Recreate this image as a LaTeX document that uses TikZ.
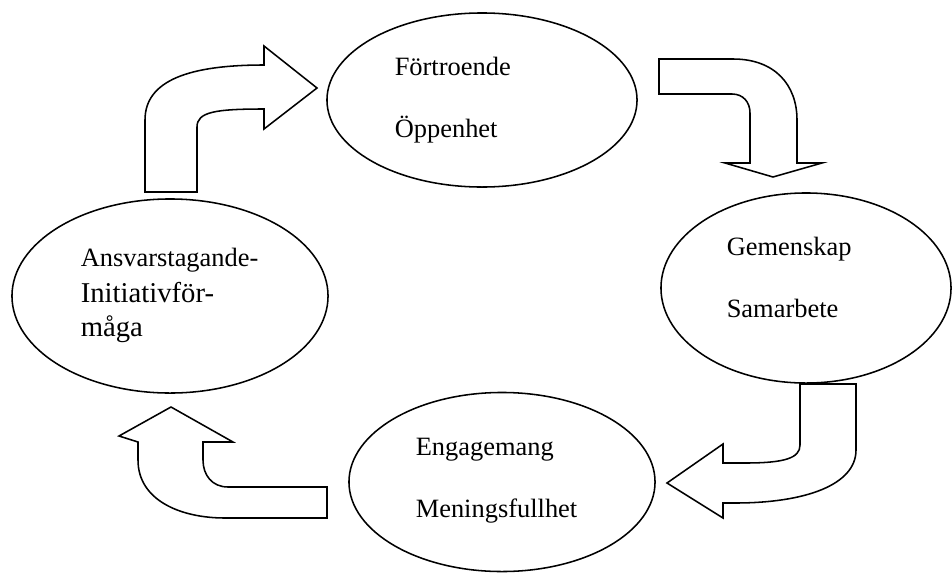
\documentclass[tikz,border=0pt]{standalone}
\usepackage{fontspec}
\setmainfont{Liberation Serif}
\usepackage{tikz}
\usetikzlibrary{shapes.geometric}

\begin{document}
\begin{tikzpicture}[x=0.025cm,y=-0.025cm,line width=1.1pt,
                    oval/.style={draw,ellipse,inner sep=0pt},
                    word/.style={anchor=base west,inner sep=0pt,font=\fontsize{18.8}{22}\selectfont},
                    bigword/.style={word,font=\fontsize{20.4}{24}\selectfont},
                    bent/.style={draw,fill=white,line join=miter}]
        \useasboundingbox (0,0) rectangle (952,573);

        \node[oval,minimum width=7.75cm,minimum height=4.35cm] (trust) at (482,100) {};
        \node[oval,minimum width=7.25cm,minimum height=4.75cm] (team) at (806,288) {};
        \node[oval,minimum width=7.65cm,minimum height=4.475cm] (engage) at (502,482) {};
        \node[oval,minimum width=7.9cm,minimum height=4.85cm] (respons) at (170,296) {};

        \node[word] (trust1) at (394,75) {Förtroende};
        \node[word] (trust2) at (394,137) {Öppenhet};
        \node[word] (team1) at (726,255) {Gemenskap};
        \node[word] (team2) at (726,317) {Samarbete};
        \node[word] (engage1) at (415,455) {Engagemang};
        \node[word] (engage2) at (415,517) {Meningsfullhet};
        \node[word] (respons1) at (80,266) {Ansvarstagande-};
        \node[bigword] (respons2) at (80,302) {Initiativför-};
        \node[bigword] (respons3) at (80,336) {måga};

        \draw[bent] (145,192) -- (145,120) .. controls (145,80) and (190,65) .. (264,65)
            -- (264,46) -- (317,88) -- (264,129) -- (264,109)
            .. controls (215,109) and (197,112) .. (197,127) -- (197,192) -- cycle;
        \draw[bent] (659,59) -- (733,59) .. controls (775,59) and (797,85) .. (797,120)
            -- (797,163) -- (822,163) -- (773,177) -- (725,163) -- (750,163) -- (750,113)
            .. controls (750,102) and (743,94) .. (732,94) -- (659,94) -- cycle;
        \draw[bent] (800,384) -- (856,384) -- (856,450) .. controls (856,485) and (805,503) .. (735,503)
            -- (723,503) -- (723,518) -- (667,483) -- (723,444) -- (723,463) -- (745,463)
            .. controls (785,463) and (800,458) .. (800,445) -- cycle;
        \draw[bent] (327,487) -- (228,487) .. controls (212,487) and (203,475) .. (203,460)
            -- (203,442) -- (233,442) -- (171,407) -- (119,436) -- (138,442) -- (138,460)
            .. controls (138,500) and (180,518) .. (225,518) -- (327,518) -- cycle;
\end{tikzpicture}
\end{document}
